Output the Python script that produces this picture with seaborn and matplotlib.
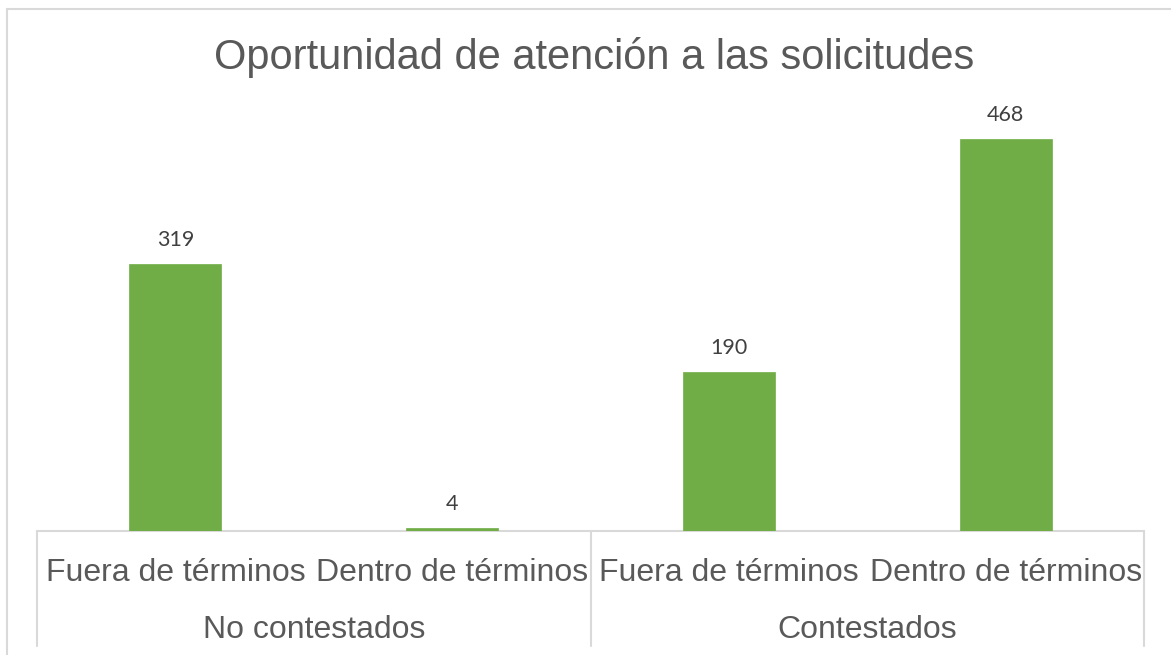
import matplotlib
matplotlib.use("Agg")
import matplotlib.pyplot as plt
import matplotlib.transforms as mtransforms
from matplotlib.lines import Line2D
import pandas as pd
import seaborn as sns

# data
grupos = ["No contestados", "No contestados", "Contestados", "Contestados"]
oportunidad = ["Fuera de términos", "Dentro de términos", "Fuera de términos", "Dentro de términos"]
valores = [319, 4, 190, 468]
titulo = "Oportunidad de atención a las solicitudes"

df = pd.DataFrame({"grupo": grupos, "oportunidad": oportunidad, "valor": valores})
df["clave"] = df["grupo"] + " | " + df["oportunidad"]

sns.set_theme(style="white")
plt.rcParams["font.family"] = ["Liberation Sans", "DejaVu Sans"]

gris_txt = "#595959"
gris_lin = "#D9D9D9"
verde = "#70AD47"

fig = plt.figure(figsize=(11.71, 6.55), dpi=100)
ax = fig.add_axes([37 / 1171, (655 - 531) / 655, (1144 - 37) / 1171, (531 - 112) / 655])

sns.barplot(data=df, x="clave", y="valor", color=verde, width=0.333, saturation=1,
            edgecolor=verde, linewidth=0.5, ax=ax)
ax.set_xlim(-0.5, len(df) - 0.5)
ax.set_ylim(0, 500)
ax.set_xlabel("")
ax.set_ylabel("")
ax.set_yticks([])
ax.set_xticks([])
for s in ["top", "right", "left"]:
    ax.spines[s].set_visible(False)
ax.spines["bottom"].set_color(gris_lin)
ax.spines["bottom"].set_linewidth(1.5)
ax.spines["bottom"].set_zorder(0.5)

# data labels
for p, v in zip(ax.patches, valores):
    ax.annotate(str(v), xy=(p.get_x() + p.get_width() / 2, p.get_height()),
                xytext=(0, 17), textcoords="offset points", ha="center", va="center",
                fontsize=15.5, color="#404040", family=["Lato", "DejaVu Sans"])

# two-level category axis
trans = mtransforms.blended_transform_factory(ax.transData, ax.transAxes)
for i, op in enumerate(df["oportunidad"]):
    ax.text(i, -42 / 419, op, transform=trans, ha="center", va="center",
            fontsize=23, color=gris_txt)
grupos_unicos = list(dict.fromkeys(grupos))
for j, g in enumerate(grupos_unicos):
    idx = [i for i, x in enumerate(grupos) if x == g]
    ax.text(sum(idx) / len(idx), -99 / 419, g, transform=trans, ha="center", va="center",
            fontsize=23, color=gris_txt)
for xs in [-0.5, 1.5, 3.5]:
    ax.plot([xs, xs], [0, -115 / 419], transform=trans, color=gris_lin, lw=1.5, clip_on=False)

# title
fig.text(594 / 1171, 1 - 58 / 655, titulo, ha="center", va="center", fontsize=30, color=gris_txt)

# chart border
fig.add_artist(Line2D([7 / 1171, 7 / 1171], [0, 1 - 9 / 655], color=gris_lin, lw=1.5))
fig.add_artist(Line2D([7 / 1171, 1], [1 - 9 / 655, 1 - 9 / 655], color=gris_lin, lw=1.5))

fig.savefig("out.png", dpi=100)
